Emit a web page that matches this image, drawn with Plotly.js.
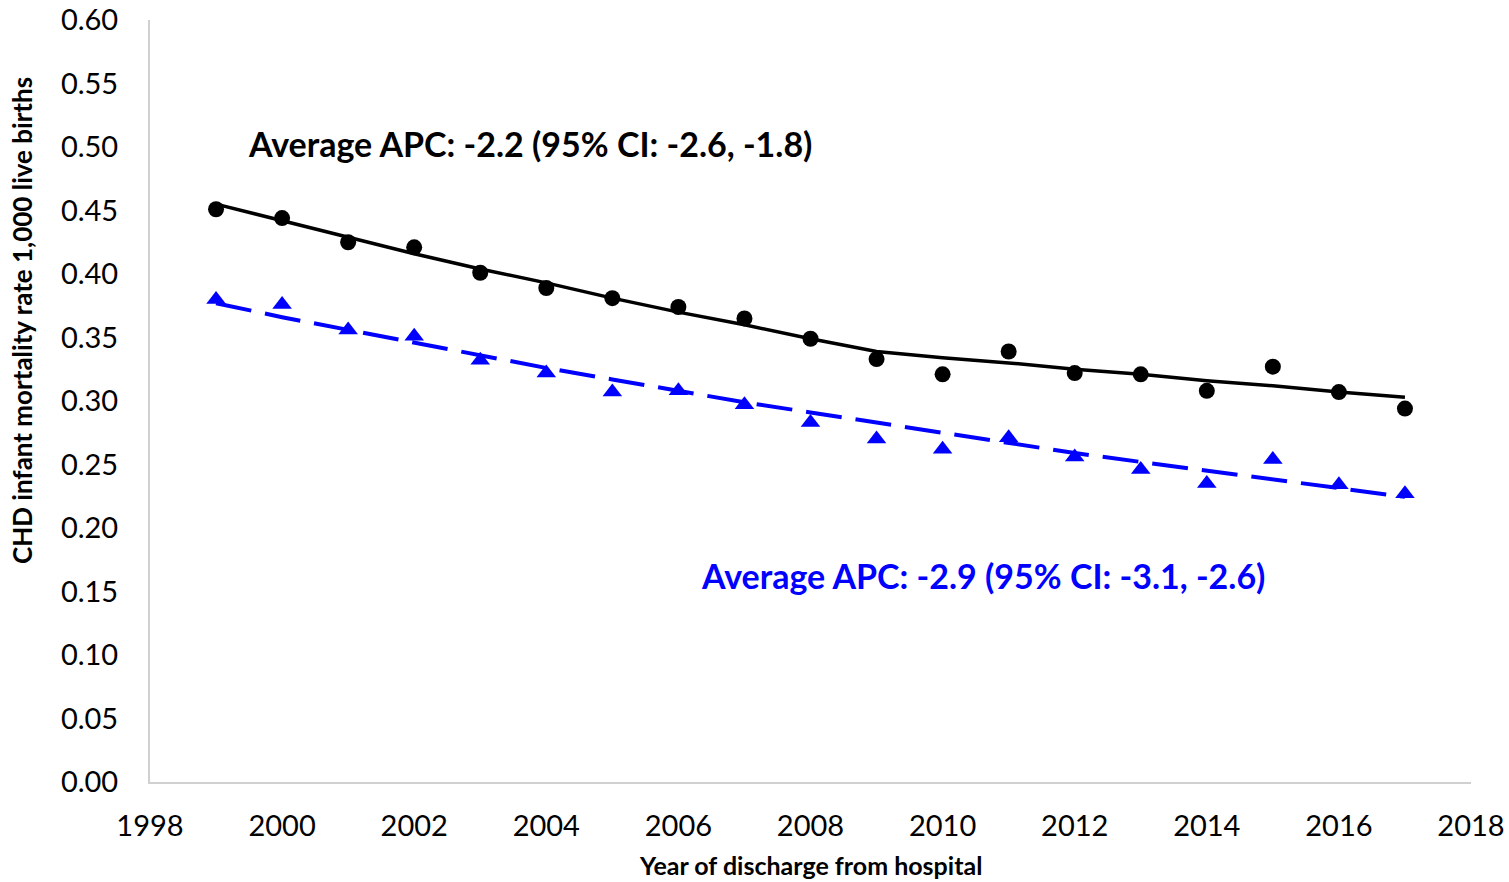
<!DOCTYPE html>
<html>
<head>
<meta charset="utf-8">
<script src="https://cdn.plot.ly/plotly-3.0.1.min.js"></script>
<style>html,body{margin:0;padding:0;background:#fff;}#chart{width:1509px;height:882px;}</style>
</head>
<body>
<div id="chart"></div>
<script>
const years = [1999,2000,2001,2002,2003,2004,2005,2006,2007,2008,2009,2010,2011,2012,2013,2014,2015,2016,2017];
const allObserved = [0.451,0.444,0.425,0.421,0.401,0.389,0.381,0.374,0.365,0.349,0.333,0.321,0.339,0.322,0.321,0.308,0.327,0.307,0.294];
const allFitted   = [0.455,0.442,0.429,0.416,0.404,0.393,0.381,0.370,0.360,0.349,0.339,0.334,0.330,0.325,0.321,0.316,0.312,0.307,0.303];
const subObserved = [0.380,0.376,0.356,0.351,0.332,0.322,0.307,0.308,0.297,0.283,0.270,0.262,0.271,0.256,0.246,0.235,0.254,0.234,0.227];
const subFitted   = [0.377,0.366,0.356,0.346,0.336,0.326,0.317,0.308,0.299,0.291,0.283,0.275,0.267,0.259,0.252,0.245,0.238,0.231,0.2245];
const xTicks = [1998,2000,2002,2004,2006,2008,2010,2012,2014,2016,2018];
const yTicks = [0.00,0.05,0.10,0.15,0.20,0.25,0.30,0.35,0.40,0.45,0.50,0.55,0.60];
const labelTop = "Average APC: -2.2 (95% CI: -2.6, -1.8)";
const labelBottom = "Average APC: -2.9 (95% CI: -3.1, -2.6)";
const xTitle = "Year of discharge from hospital";
const yTitle = "CHD infant mortality rate 1,000 live births";

const FONT = "Lato, 'Open Sans', sans-serif";
const BLUE = "#0000FF";

const traces = [
  {x: years, y: allFitted, mode: "lines", line: {color: "#000", width: 3.5}, hoverinfo: "skip"},
  {x: years, y: subFitted, mode: "lines", line: {color: BLUE, width: 4, dash: "36px,14px"}, hoverinfo: "skip"},
  {x: years, y: allObserved, mode: "markers", marker: {symbol: "circle", size: 16, color: "#000"}},
  {x: years, y: subObserved, mode: "markers", marker: {symbol: "triangle-up", size: 17, color: BLUE}}
];

const layout = {
  width: 1509, height: 882,
  margin: {l: 150, r: 38, t: 20, b: 100},
  paper_bgcolor: "#fff", plot_bgcolor: "#fff",
  showlegend: false,
  font: {family: FONT, color: "#000"},
  xaxis: {
    range: [1998, 2018], tickvals: xTicks, ticktext: xTicks.map(String),
    showgrid: false, zeroline: false, showline: true, linecolor: "#d0d0d0", linewidth: 2,
    ticks: "outside", ticklen: 17, tickcolor: "rgba(0,0,0,0)",
    tickfont: {family: FONT, size: 29, color: "#000"}
  },
  yaxis: {
    range: [0, 0.6], tickvals: yTicks, ticktext: yTicks.map(v => v.toFixed(2)),
    showgrid: false, zeroline: false, showline: true, linecolor: "#d0d0d0", linewidth: 2,
    ticks: "outside", ticklen: 24, tickcolor: "rgba(0,0,0,0)",
    tickfont: {family: FONT, size: 29, color: "#000"}
  },
  annotations: [
    {xref: "paper", yref: "paper", x: 0.5, y: (782-865)/762, text: "<b>" + xTitle + "</b>",
     showarrow: false, font: {family: FONT, size: 25, color: "#000"}, xanchor: "center", yanchor: "middle"},
    {xref: "paper", yref: "paper", x: -128/1321, y: (782-321)/762, text: "<b>" + yTitle + "</b>", textangle: -90,
     showarrow: false, font: {family: FONT, size: 26, color: "#000"}, xanchor: "center", yanchor: "middle"},
    {xref: "paper", yref: "paper", x: (530-150)/1321, y: (782-143)/762, text: "<b>" + labelTop + "</b>",
     showarrow: false, font: {family: FONT, size: 34, color: "#000"}, xanchor: "center", yanchor: "middle"},
    {xref: "paper", yref: "paper", x: (983-150)/1321, y: (782-575)/762, text: "<b>" + labelBottom + "</b>",
     showarrow: false, font: {family: FONT, size: 34, color: BLUE}, xanchor: "center", yanchor: "middle"}
  ]
};

Plotly.newPlot("chart", traces, layout, {displayModeBar: false, staticPlot: true});
</script>
</body>
</html>
